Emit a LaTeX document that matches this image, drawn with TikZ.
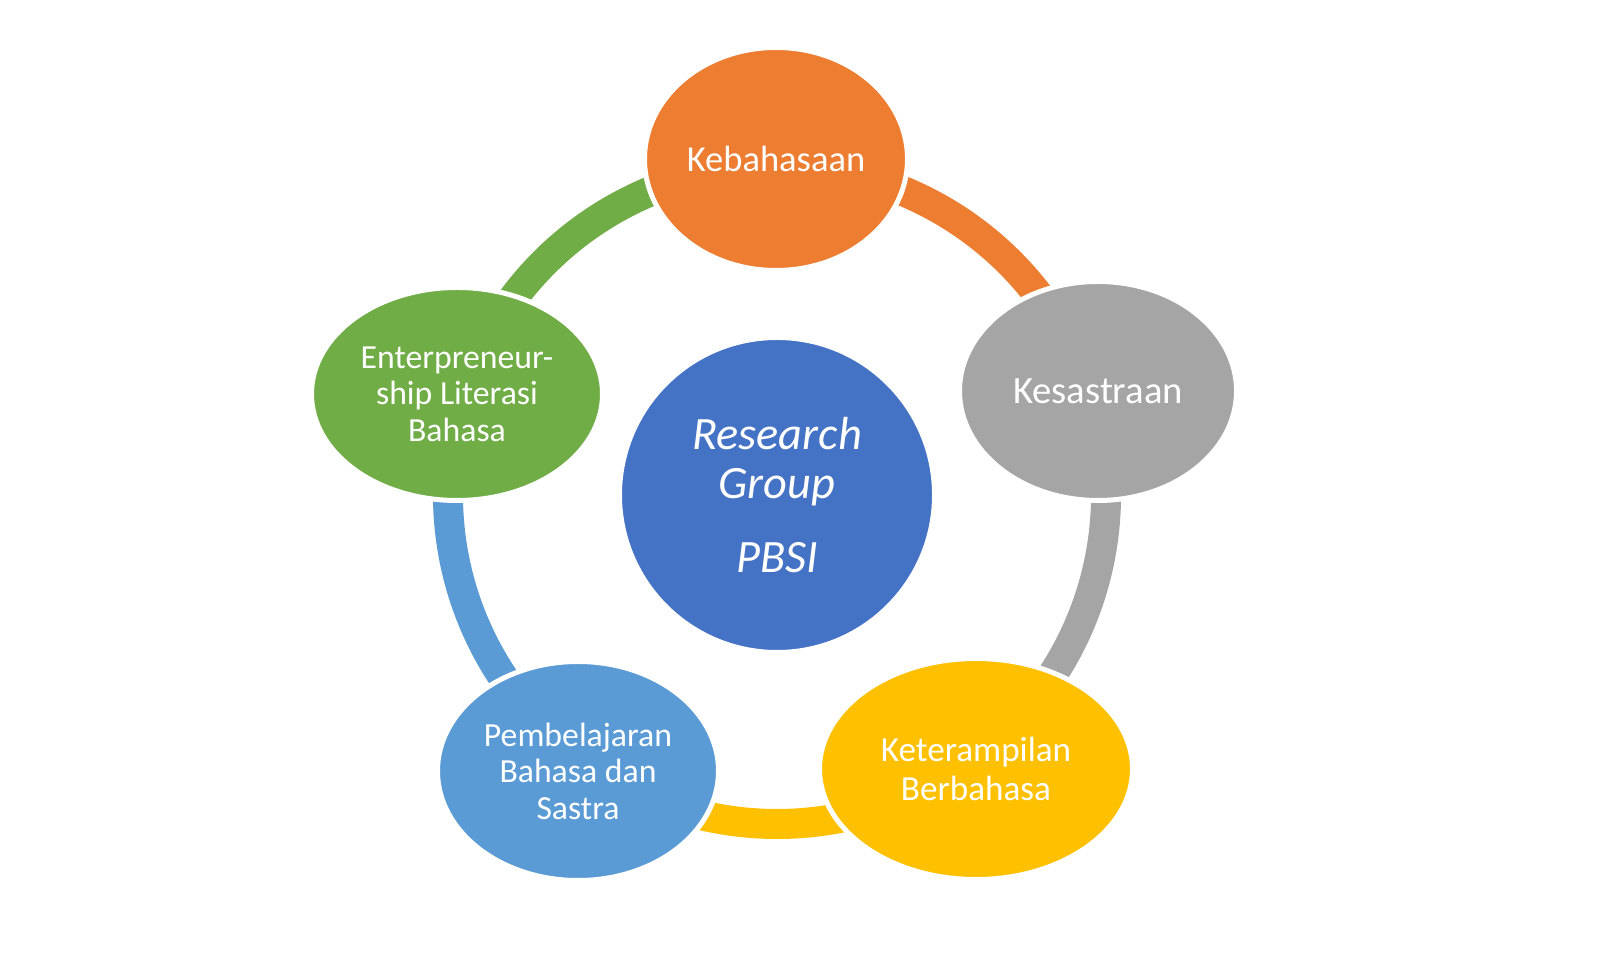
\documentclass[tikz,border=0pt]{standalone}
\usepackage{fontspec}
\setmainfont{Carlito}
\usetikzlibrary{shapes.geometric}
\definecolor{cOrange}{HTML}{ED7D31}
\definecolor{cGray}{HTML}{A5A5A5}
\definecolor{cYellow}{HTML}{FFC000}
\definecolor{cBlue}{HTML}{5B9BD5}
\definecolor{cGreen}{HTML}{70AD47}
\definecolor{cCenter}{HTML}{4472C4}
\begin{document}
\begin{tikzpicture}
\tikzset{
  petal/.style={ellipse, draw=white, line width=0.5mm, text=white, align=center, inner sep=0pt,
    font=\fontsize{9.6}{10.4}\selectfont},
  band/.style={line width=3mm},
  hub/.style={circle, fill=cCenter, draw=white, line width=0.5mm, minimum size=3.15cm, inner sep=0pt,
    text=white, align=center, font=\fontsize{13.2}{14}\selectfont\itshape},
}
\useasboundingbox[fill=white] (0,0) rectangle (16,9.59);

\node[hub] (ctr) at (7.77,4.64) {Research\\Group\\[6.8pt]PBSI};

% ring segments
\draw[band, draw=cOrange] (ctr.center) ++(90:3.29) arc[start angle=90, end angle=18, radius=3.29cm];
\draw[band, draw=cGray]   (ctr.center) ++(18:3.29) arc[start angle=18, end angle=-54, radius=3.29cm];
\draw[band, draw=cYellow] (ctr.center) ++(-54:3.29) arc[start angle=-54, end angle=-126, radius=3.29cm];
\draw[band, draw=cBlue]   (ctr.center) ++(-126:3.29) arc[start angle=-126, end angle=-198, radius=3.29cm];
\draw[band, draw=cGreen]  (ctr.center) ++(162:3.29) arc[start angle=162, end angle=90, radius=3.29cm];

\node[petal, fill=cOrange, minimum width=2.63cm, minimum height=2.23cm, font=\fontsize{10.4}{12}\selectfont] (keb) at (7.76,8.00) {Kebahasaan};
\node[petal, fill=cGray, minimum width=2.77cm, minimum height=2.19cm, font=\fontsize{11}{13}\selectfont] (kes) at (10.98,5.68) {Kesastraan};
\node[petal, fill=cYellow, minimum width=3.13cm, minimum height=2.21cm, font=\fontsize{10}{10.9}\selectfont] (ket) at (9.76,1.90) {Keterampilan\\Berbahasa};
\node[petal, fill=cBlue, minimum width=2.81cm, minimum height=2.19cm] (pem) at (5.78,1.88) {Pembelajaran\\Bahasa dan\\Sastra};
\node[petal, fill=cGreen, minimum width=2.91cm, minimum height=2.13cm] (ent) at (4.57,5.65) {Enterpreneur-\\ship Literasi\\Bahasa};
\end{tikzpicture}
\end{document}
